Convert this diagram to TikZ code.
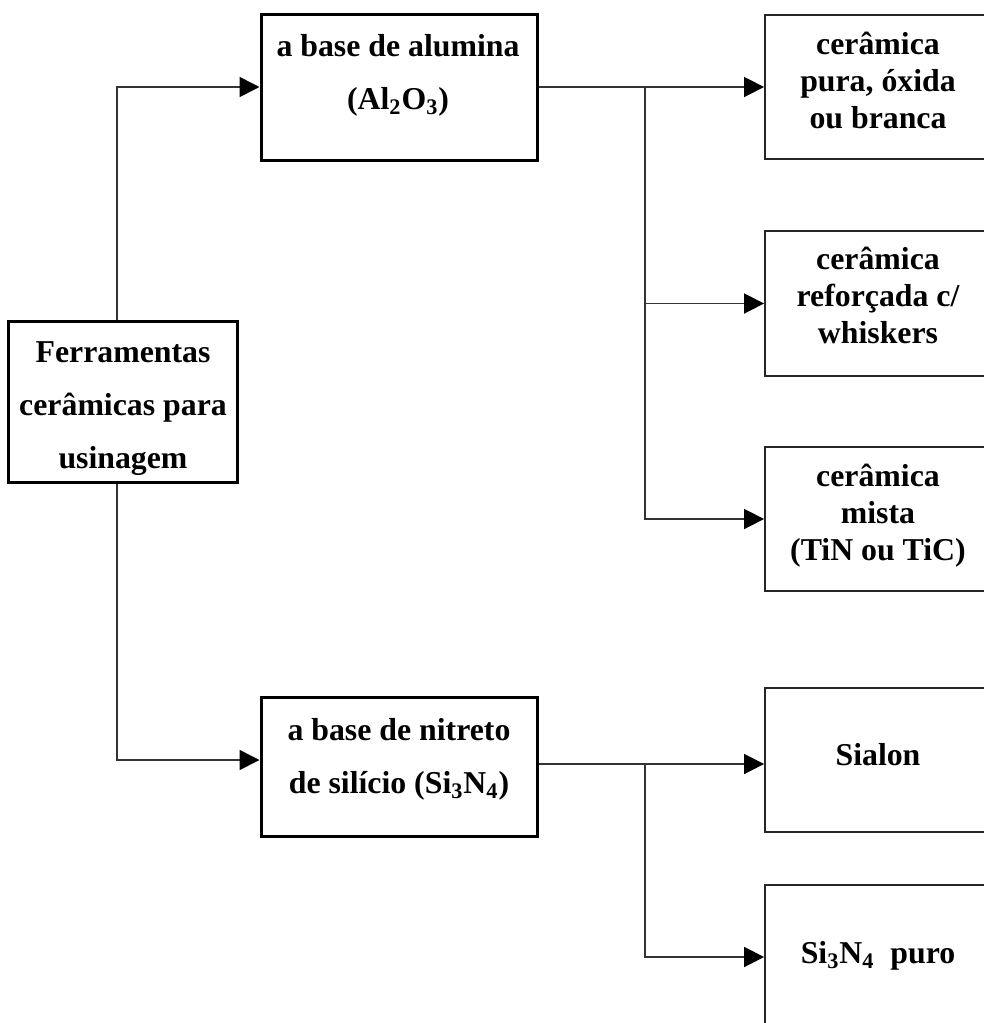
\documentclass[tikz,border=0pt]{standalone}
\usepackage{fontspec}
\setmainfont{Liberation Serif}
\usetikzlibrary{arrows.meta}
\begin{document}
\begin{tikzpicture}[x=0.5pt,y=-0.5pt,
  mainbox/.style={draw=black,line width=1.5pt,rectangle,inner sep=0pt},
  subbox/.style={draw=black!85,line width=0.9pt,rectangle,inner sep=0pt,minimum width=113pt,minimum height=72pt},
  bigtxt/.style={anchor=base,align=center,inner sep=0pt,font=\bfseries\fontsize{15.9pt}{26.3pt}\selectfont},
  smalltxt/.style={anchor=base,align=center,inner sep=0pt,font=\bfseries\fontsize{15.9pt}{18.3pt}\selectfont},
  conn/.style={draw=black!80,line width=0.8pt},
  arr/.style={conn,-{Triangle[length=10pt,width=10pt,color=black]}}]
\useasboundingbox (0,0) rectangle (984,1023);
\clip (0,0) rectangle (984,1023);
% main boxes
\node[mainbox,minimum width=114.5pt,minimum height=80.5pt] (ferr) at (122.5,401.5) {};
\node[mainbox,minimum width=138pt,minimum height=73pt] (alu) at (399,87) {};
\node[mainbox,minimum width=138pt,minimum height=69.5pt] (nit) at (399,766.5) {};
% sub boxes
\node[subbox] (pura) at (878,87) {};
\node[subbox,minimum height=72.5pt] (refo) at (878,303.5) {};
\node[subbox] (mist) at (878,519) {};
\node[subbox] (sia) at (878,760) {};
\node[subbox] (sipu) at (878,957) {};
% texts (anchor = baseline of last line)
\node[bigtxt] (tferr) at (123,468) {Ferramentas\\cerâmicas para\\usinagem};
\node[bigtxt] (talu) at (398,109) {a base de alumina\\(Al\textsubscript{2}O\textsubscript{3})};
\node[bigtxt] (tnit) at (399,793) {a base de nitreto\\de silício (Si\textsubscript{3}N\textsubscript{4})};
\node[smalltxt] (tpura) at (878,128) {cerâmica\\pura, óxida\\ou branca};
\node[smalltxt] (trefo) at (878,343) {cerâmica\\reforçada c/\\whiskers};
\node[smalltxt] (tmist) at (878,560) {cerâmica\\mista\\(TiN ou TiC)};
\node[smalltxt] (tsia) at (878,765) {Sialon};
\node[smalltxt] (tsipu) at (878,963) {Si\textsubscript{3}N\textsubscript{4}\ \ puro};
% connectors
\draw[arr] ([xshift=-2.75pt]ferr.north) |- (alu.west);
\draw[arr] ([xshift=-2.75pt]ferr.south) |- ([yshift=3.25pt]nit.west);
\coordinate (b1) at (645,87);
\coordinate (b2) at (645,764);
\draw[conn] (alu.east) -- (b1);
\draw[arr] (b1) -- (pura.west);
\draw[arr] (b1) |- (refo.west);
\draw[arr] (b1) |- (mist.west);
\draw[conn] (nit.east |- b2) -- (b2);
\draw[arr] (b2) -- (sia.west |- b2);
\draw[arr] (b2) |- (sipu.west);
\end{tikzpicture}
\end{document}
